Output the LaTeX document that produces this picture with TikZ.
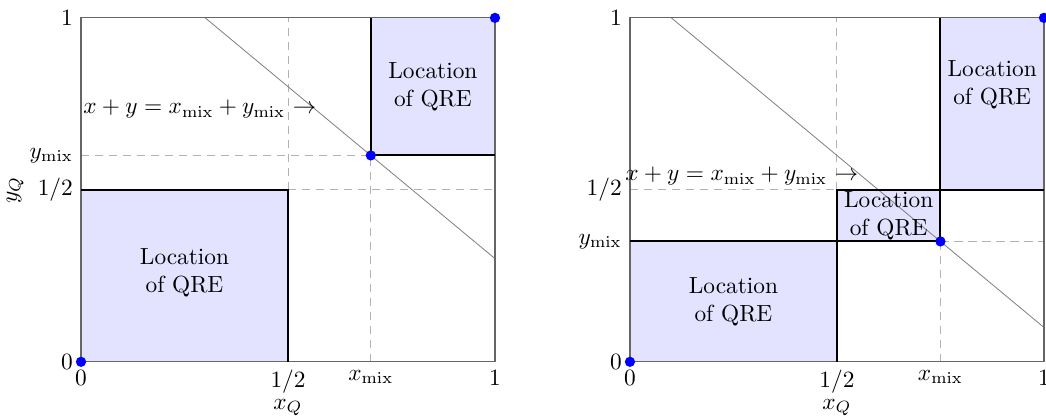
\documentclass[tikz,border=0pt]{standalone}
\usepackage{amsmath}
\usetikzlibrary{positioning}

\tikzset{
  frame/.style={draw=black!60, line width=0.5pt},
  guide/.style={draw=gray!60, dash pattern=on 3.5pt off 2.5pt, line width=0.4pt},
  qrefill/.style={fill=blue!11},
  qreedge/.style={draw=black, line width=0.9pt},
  isoline/.style={draw=gray, line width=0.35pt},
  eqdot/.style={circle, fill=blue, inner sep=0pt, minimum size=4.4pt},
  qrelabel/.style={align=center, inner sep=0pt},
}

\begin{document}
\begin{tikzpicture}[x=6.235cm, y=5.18cm]
\useasboundingbox (-0.1957,-0.160) rectangle (2.331,1.052);

% ---------- left panel (x_mix > 1/2, y_mix > 1/2)
\begin{scope}
\def\xm{0.7}   % x_mix
\def\ym{0.6}   % y_mix
\pgfmathsetmacro{\lvl}{\xm+\ym-1}
\coordinate (LO) at (0,0);
\coordinate (LH) at (0.5,0.5);
\coordinate (LM) at (\xm,\ym);
\coordinate (LI) at (1,1);

% QRE regions
\fill[qrefill] (LO) rectangle (LH);
\fill[qrefill] (LM) rectangle (LI);

% dashed guides
\draw[guide] (LH) -- (LH |- LI);
\draw[guide] (LH) -- (LI |- LH);
\draw[guide] (LM |- LO) -- (LM);
\draw[guide] (LO |- LM) -- (LM);

% level line x+y = x_mix+y_mix
\coordinate (Ltop) at (\lvl,1);
\coordinate (Lrgt) at (1,\lvl);
\draw[isoline] (Ltop) -- (Lrgt);

\draw[frame] (LO) rectangle (LI);
\draw[qreedge] (LO -| LH) -- (LH) -- (LO |- LH);
\draw[qreedge] (LI |- LM) -- (LM) -- (LM |- LI);

\node[qrelabel] (Lq1) at (0.25,0.26) {Location\\of QRE};
\node[qrelabel] (Lq2) at (0.85,0.8) {Location\\of QRE};
\node[anchor=east, inner sep=1pt] (Leq) at (0.575,0.735)
  {$x+y=x_{\mathrm{mix}}+y_{\mathrm{mix}}$ $\rightarrow$};

% ticks
\foreach \v/\t/\n in {0/0/a, 0.5/{1/2}/b, \xm/x_{\mathrm{mix}}/c, 1/1/d}
  \node[below] (Lx\n) at (\v,0) {$\t$};
\foreach \v/\t/\n in {0/0/a, 0.5/{1/2}/b, \ym/y_{\mathrm{mix}}/c, 1/1/d}
  \node[left] (Ly\n) at (0,\v) {$\t$};
\node[below=-4.5pt of Lxb] (LxQ) {$x_Q$};
\node[rotate=90] (LyQ) at (-0.159,0.5) {$y_Q$};

\node[eqdot] (LdO) at (LO) {};
\node[eqdot] (LdM) at (LM) {};
\node[eqdot] (LdI) at (LI) {};
\end{scope}

% ---------- right panel (x_mix > 1/2, y_mix < 1/2)
\begin{scope}[shift={(1.326,0)}]
\def\xm{0.75}  % x_mix
\def\ym{0.35}  % y_mix
\pgfmathsetmacro{\lvl}{\xm+\ym-1}
\coordinate (RO) at (0,0);
\coordinate (RH) at (0.5,0.5);
\coordinate (RM) at (\xm,\ym);
\coordinate (RI) at (1,1);

% QRE regions
\fill[qrefill] (RO) rectangle (RH |- RM);
\fill[qrefill] (RH |- RM) rectangle (RM |- RH);
\fill[qrefill] (RM |- RH) rectangle (RI);

% dashed guides
\draw[guide] (RH) -- (RH |- RI);
\draw[guide] (RO |- RH) -- (RH);
\draw[guide] (RM |- RO) -- (RM);
\draw[guide] (RM) -- (RI |- RM);

% level line x+y = x_mix+y_mix
\coordinate (Rtop) at (\lvl,1);
\coordinate (Rrgt) at (1,\lvl);
\draw[isoline] (Rtop) -- (Rrgt);

\draw[frame] (RO) rectangle (RI);
\draw[qreedge] (RO -| RH) -- (RH |- RM) -- (RO |- RM);
\draw[qreedge] (RH |- RM) rectangle (RM |- RH);
\draw[qreedge] (RM |- RI) -- (RM |- RH) -- (RI |- RH);

\node[qrelabel] (Rq1) at (0.25,0.175) {Location\\of QRE};
\node[qrelabel] (Rq2) at (0.625,0.425) {Location\\of QRE};
\node[qrelabel] (Rq3) at (0.875,0.805) {Location\\of QRE};
\node[anchor=east, inner sep=1pt] (Req) at (0.558,0.54)
  {$x+y=x_{\mathrm{mix}}+y_{\mathrm{mix}}$ $\rightarrow$};

% ticks
\foreach \v/\t/\n in {0/0/a, 0.5/{1/2}/b, \xm/x_{\mathrm{mix}}/c, 1/1/d}
  \node[below] (Rx\n) at (\v,0) {$\t$};
\foreach \v/\t/\n in {0/0/a, \ym/y_{\mathrm{mix}}/c, 0.5/{1/2}/b, 1/1/d}
  \node[left] (Ry\n) at (0,\v) {$\t$};
\node[below=-4.5pt of Rxb] (RxQ) {$x_Q$};

\node[eqdot] (RdO) at (RO) {};
\node[eqdot] (RdM) at (RM) {};
\node[eqdot] (RdI) at (RI) {};
\end{scope}
\end{tikzpicture}
\end{document}
